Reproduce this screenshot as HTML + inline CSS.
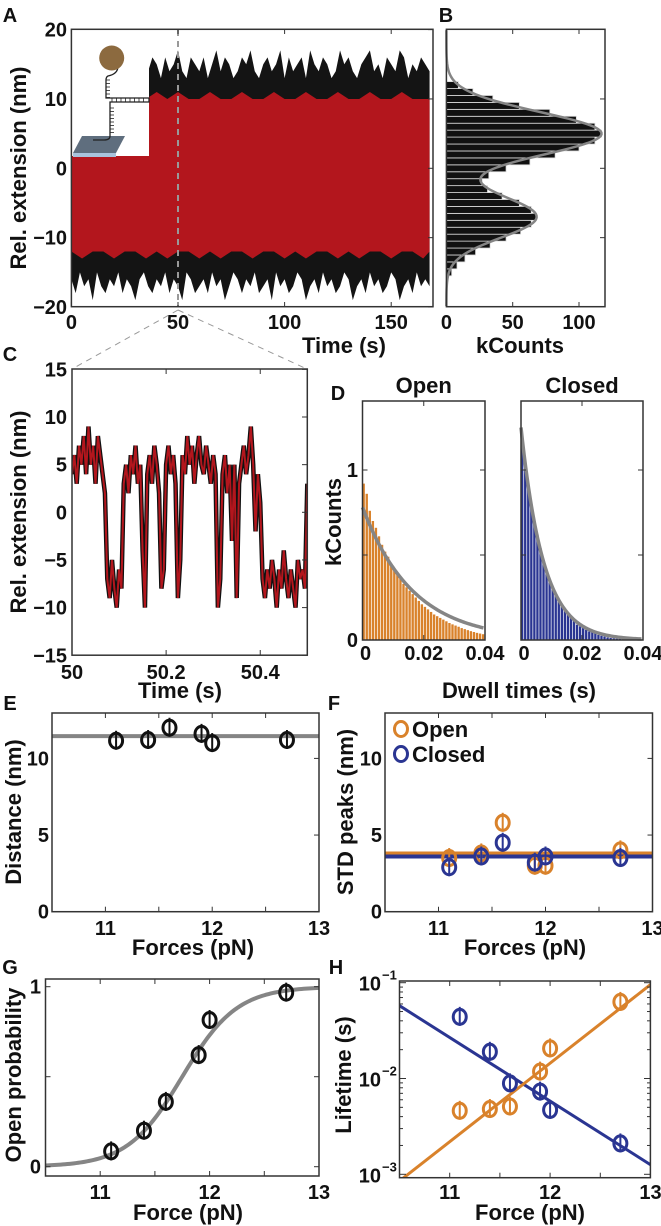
<!DOCTYPE html>
<html><head><meta charset="utf-8"><style>
html,body{margin:0;padding:0;background:#fff}
svg{display:block}
text{font-family:"Liberation Sans",Arial,sans-serif;font-weight:bold;fill:#111}
</style></head><body>
<svg id="fig" width="661" height="1226" viewBox="0 0 661 1226" xmlns="http://www.w3.org/2000/svg"></svg>
<script>
// ---------- DATA ----------
// Panel A raw envelope (every 2 s from 0 to 168 s)
const aEnvStep=2;
const aBlackTop=[14,16,13,15,17,14,13,16,15,14,17,13,15,16,14,15,13,17,14,16,15,13,16,14,15,17,14,13,16,15,14,16,13,15,17,14,16,15,13,14,16,15,17,14,13,15,16,14,15,17,13,16,14,15,16,13,17,15,14,16,15,13,14,17,15,16,14,13,15,16,17,14,15,13,16,15,14,17,16,13,15,14,16,15,14];
const aBlackBot=[-16,-18,-15,-17,-16,-19,-15,-17,-18,-16,-17,-15,-18,-16,-17,-19,-16,-15,-17,-18,-16,-17,-15,-18,-16,-17,-19,-15,-16,-18,-17,-16,-18,-15,-17,-16,-19,-17,-15,-16,-18,-16,-17,-15,-18,-17,-16,-19,-15,-17,-16,-18,-17,-15,-16,-19,-17,-16,-18,-15,-17,-16,-18,-17,-15,-16,-19,-17,-16,-18,-15,-17,-16,-18,-17,-15,-16,-19,-17,-16,-18,-15,-17,-16,-17];
// Panel A filtered envelope (every 5 s)
const aTimes=[0,5,10,15,20,25,30,35,40,45,50,55,60,65,70,75,80,85,90,95,100,105,110,115,120,125,130,135,140,145,150,155,160,165,168];
const aRedTop=[10,10,10,10,10,10,10,10,11,10,11,10,10,11,10,10,11,10,10,11,10,10,11,10,10,11,10,10,11,10,10,11,10,10,10];
const aRedBot=[-12,-13,-12,-12,-13,-12,-12,-13,-12,-13,-12,-12,-13,-12,-13,-12,-12,-13,-12,-12,-13,-12,-13,-12,-12,-13,-12,-13,-12,-12,-13,-12,-12,-13,-12];
const aXTicks=[0,50,100,150];
const aYTicks=[20,10,0,-10,-20];
// Panel B histogram (bin centre nm, kCounts)
const bBins=[-15,-14,-13,-12,-11,-10,-9,-8,-7,-6,-5,-4,-3,-2,-1,0,1,2,3,4,5,6,7,8,9,10,11,12];
const bCounts=[4,8,14,22,33,45,56,64,68,64,55,42,31,27,32,45,63,82,100,112,117,112,98,78,55,35,20,9];
const bFitAmp=[117,68];
const bFitMu=[5,-7];
const bFitSig=[3.1,3.0];
const bXTicks=[0,50,100];
// Panel C trace
const cStart=50, cStep=0.005;
const cTrace=[4,6,3,7,5,8,4,9,5,7,3,8,6,4,2,-7,-9,-5,-8,-10,-6,-8,3,5,2,6,4,7,3,5,-4,-10,4,6,3,7,5,2,-8,-6,5,7,4,6,3,-9,-5,6,4,8,5,7,3,6,8,5,4,7,5,3,6,4,-10,-7,4,6,2,5,-3,5,-9,3,5,7,4,6,9,5,-2,4,1,-7,-9,-6,-8,-5,-7,-10,-6,-8,-4,-7,-9,-6,-8,-10,-5,-7,-6,-8,3];
const cXTicks=[50,50.2,50.4];
const cYTicks=[15,10,5,0,-5,-10,-15];
// Panel D dwell histograms (bin width 0.001 s)
const dOpen=[0.92,0.86,0.76,0.70,0.66,0.61,0.56,0.52,0.49,0.45,0.42,0.39,0.36,0.33,0.31,0.29,0.27,0.25,0.23,0.21,0.195,0.18,0.165,0.15,0.14,0.13,0.12,0.11,0.10,0.092,0.085,0.078,0.07,0.064,0.058,0.052,0.047,0.042,0.038,0.034];
const dClosed=[1.18,1.02,0.90,0.80,0.70,0.62,0.54,0.47,0.41,0.36,0.31,0.27,0.23,0.20,0.17,0.15,0.13,0.11,0.09,0.08,0.07,0.06,0.05,0.045,0.04,0.03,0.025,0.02,0.015,0.012,0.01,0.008,0.006,0.005,0.004,0.003,0.002,0.002,0.001,0.001];
const dFitAmp=[0.78,1.25];
const dFitTau=[0.0165,0.0074];
// Panels E-H
const forces=[11.1,11.4,11.6,11.9,12.0,12.7];
const eDistance=[11.15,11.2,12.0,11.6,11.0,11.2];
const eMean=[11.45];
const fOpen=[3.5,3.8,5.8,3.0,3.0,4.0];
const fClosed=[2.9,3.6,4.5,3.2,3.6,3.5];
const fMeans=[3.8,3.6];
const gProb=[0.085,0.20,0.36,0.62,0.815,0.967];
const gFit=[11.75,0.25];
const hOpen=[0.0046,0.0048,0.0051,0.0118,0.0206,0.063];
const hClosed=[0.044,0.019,0.0089,0.0073,0.0047,0.0021];
const hFitOpen=[-1.84,0.82];
const hFitClosed=[-2.236,-0.664];
const forceTicks=[11,12,13];

// ---------- HELPERS ----------
const NS="http://www.w3.org/2000/svg";
const svg=document.getElementById('fig');
const TK=20, TT=22;
function el(tag,attrs,parent){const e=document.createElementNS(NS,tag);for(const k in attrs)e.setAttribute(k,attrs[k]);(parent||svg).appendChild(e);return e;}
function txt(x,y,s,size,anchor,rot){const t=el('text',{x:x,y:y,'font-size':size,'text-anchor':anchor||'middle'});if(rot)t.setAttribute('transform','rotate(-90 '+x+' '+y+')');t.textContent=s;return t;}
function box(x0,y0,x1,y1){return el('rect',{x:x0,y:y0,width:x1-x0,height:y1-y0,fill:'none',stroke:'#333','stroke-width':1.5});}
const ORANGE='#d9822b', BLUE='#2a3592', RED='#b3161d', GRAY='#858585';

// ---------- PANEL A ----------
const ax=t=>71.4+t*2.132, ay=v=>168.3-v*6.935;
let g=el('g',{});


let p='';aBlackTop.forEach((v,i)=>{p+=(i?'L':'M')+ax(i*aEnvStep)+','+ay(v);});for(let i=aBlackBot.length-1;i>=0;i--)p+='L'+ax(i*aEnvStep)+','+ay(aBlackBot[i]);
let e=el('path',{d:p+'Z',fill:'#141414'},g);

p='';aTimes.forEach((t,i)=>{p+=(i?'L':'M')+ax(t)+','+ay(aRedTop[i]);});for(let i=aTimes.length-1;i>=0;i--)p+='L'+ax(aTimes[i])+','+ay(aRedBot[i]);
e=el('path',{d:p+'Z',fill:RED},g);

// inset
e=el('rect',{x:72,y:30,width:77,height:126,fill:'#fff'},g);

el('path',{d:'M82,136 L125,136 L116,153 L73,153 Z',fill:'#5f6e7e'},g);
el('path',{d:'M73,153 L116,153 L116,157 L73,157 Z',fill:'#a9c3dc'},g);
el('path',{d:'M118,66 Q118,74 108,76 Q106,77 106,80 L106,98 L149,98 L149,102 L110,102 L110,136 Q110,140 104,140 L93,140',fill:'none',stroke:'#222','stroke-width':1.3},g);
for(let y=80;y<98;y+=3.5)el('line',{x1:106,y1:y,x2:110,y2:y,stroke:'#222','stroke-width':0.8},g);
for(let x=112;x<148;x+=4.5)el('line',{x1:x,y1:98,x2:x,y2:102,stroke:'#222','stroke-width':0.8},g);
for(let y=108;y<136;y+=3.5)el('line',{x1:110,y1:y,x2:114,y2:y,stroke:'#222','stroke-width':0.8},g);
e=el('circle',{cx:111.7,cy:58,r:12.5,fill:'#8c6a3f'},g);

e=el('line',{x1:ax(50),y1:30,x2:ax(50),y2:307,stroke:'#999','stroke-width':2,'stroke-dasharray':'6,5'},g);

box(71.4,29.3,433,306.7);
aXTicks.forEach(t=>{el('line',{x1:ax(t),y1:306.7,x2:ax(t),y2:302,stroke:'#333'},g);el('line',{x1:ax(t),y1:29.3,x2:ax(t),y2:34,stroke:'#333'},g);const l=txt(ax(t),329,String(t),TK);});
aYTicks.forEach(v=>{el('line',{x1:433,y1:ay(v),x2:428,y2:ay(v),stroke:'#333'},g);const l=txt(67,ay(v)+7,v<0?'\u2212'+(-v):String(v),TK,'end');});
e=txt(26,168,'Rel. extension (nm)',TT,'middle',true);
e=txt(344,353,'Time (s)',TT);
e=txt(10,22,'A',TK);
el('path',{d:'M'+ax(50)+',310 L72,369 M'+ax(50)+',310 L307,369',stroke:'#999','stroke-width':1,'stroke-dasharray':'6,5',fill:'none'});

// ---------- PANEL B ----------
const bx=c=>446.4+c*1.326;
g=el('g',{});

bBins.forEach((b,i)=>{const r=el('rect',{x:bx(0),y:ay(b+0.5),width:bx(bCounts[i])-bx(0),height:ay(b-0.5)-ay(b+0.5),fill:'#111',stroke:'#ddd','stroke-width':0.8},g);
});
p='';for(let v=19.9;v>=-19.9;v-=0.25){let c=0;for(let k=0;k<2;k++)c+=bFitAmp[k]*Math.exp(-Math.pow(v-bFitMu[k],2)/(2*bFitSig[k]*bFitSig[k]));p+=(p?'L':'M')+bx(c)+','+ay(v);}
e=el('path',{d:p,fill:'none',stroke:GRAY,'stroke-width':2.5},g);
box(446.4,29.3,605,306.7);
bXTicks.forEach(c=>{el('line',{x1:bx(c),y1:306.7,x2:bx(c),y2:302,stroke:'#333'},g);el('line',{x1:bx(c),y1:29.3,x2:bx(c),y2:34,stroke:'#333'},g);const l=txt(bx(c),329,String(c),TK);});
[10,0,-10].forEach(v=>el('line',{x1:605,y1:ay(v),x2:600,y2:ay(v),stroke:'#333'},g));
e=txt(520,353,'kCounts',TT);
e=txt(446,22,'B',TK);

// ---------- PANEL C ----------
const cx=t=>72+(t-50)*470.6, cy=v=>512.3-v*9.53;
g=el('g',{});

el('defs',{}).innerHTML='<clipPath id="cclip"><rect x="72" y="369" width="235" height="286"/></clipPath>';
const cg=el('g',{'clip-path':'url(#cclip)'},g);
p='';cTrace.forEach((v,i)=>{p+=(i?'L':'M')+cx(cStart+i*cStep)+','+cy(v);});
e=el('path',{d:p,fill:'none',stroke:'#111','stroke-width':4.5,'stroke-linejoin':'miter'},cg);
e=el('path',{d:p,fill:'none',stroke:RED,'stroke-width':2},cg);
box(72,369,307.3,655.2);
cXTicks.forEach(t=>{el('line',{x1:cx(t),y1:655,x2:cx(t),y2:650,stroke:'#333'},g);el('line',{x1:cx(t),y1:369,x2:cx(t),y2:374,stroke:'#333'},g);const l=txt(cx(t),679,String(t),TK);});
cYTicks.forEach(v=>{el('line',{x1:307,y1:cy(v),x2:302,y2:cy(v),stroke:'#333'},g);const l=txt(67,cy(v)+7,v<0?'\u2212'+(-v):String(v),TK,'end');});
e=txt(26,512,'Rel. extension (nm)',TT,'middle',true);
e=txt(180,698,'Time (s)',TT);
e=txt(10,361,'C',TK);

// ---------- PANEL D ----------
const dy=k=>640-k*170;
function dPanel(x0,x1,bars,col,amp,tau,title,name){
  const dx=t=>x0+t*(x1-x0)/0.04;
  const gg=el('g',{});
  
  bars.forEach((v,i)=>{const r=el('rect',{x:dx(i*0.001),y:dy(v),width:dx(0.001)-dx(0)-0.7,height:640-dy(v),fill:col},gg);
  });
  let pp='';for(let t=0;t<=0.04;t+=0.0005){pp+=(pp?'L':'M')+dx(t)+','+dy(amp*Math.exp(-t/tau));}
  const f=el('path',{d:pp,fill:'none',stroke:GRAY,'stroke-width':3.5},gg);
  box(x0,401,x1,640);
  [0,0.02,0.04].forEach(t=>{el('line',{x1:dx(t),y1:640,x2:dx(t),y2:635,stroke:'#333'},gg);el('line',{x1:dx(t),y1:401,x2:dx(t),y2:406,stroke:'#333'},gg);const l=txt(dx(t)+(t===0?3:0),660,String(t),TK);});
  [0.5,1].forEach(k=>{el('line',{x1:x1,y1:dy(k),x2:x1-5,y2:dy(k),stroke:'#333'},gg);el('line',{x1:x0,y1:dy(k),x2:x0+5,y2:dy(k),stroke:'#333'},gg);});
  const tl=txt((x0+x1)/2,393,title,TT);
  return dx;
}
dPanel(362.5,485,dOpen,ORANGE,dFitAmp[0],dFitTau[0],'Open','panel-d-open');
dPanel(521,643,dClosed,BLUE,dFitAmp[1],dFitTau[1],'Closed','panel-d-closed');
e=txt(358,477,'1',TK,'end');
e=txt(358,647,'0',TK,'end');
e=txt(341,522,'kCounts',TT,'middle',true);
e=txt(519,698,'Dwell times (s)',TT);
e=txt(338,400,'D',TK);

// ---------- markers ----------
function marker(parent,x,y,col,name){const gg=el('g',{},parent);
  el('line',{x1:x,y1:y-10,x2:x,y2:y+9,stroke:col,'stroke-width':2},gg);
  el('ellipse',{cx:x,cy:y,rx:6.5,ry:7.5,fill:'none',stroke:col,'stroke-width':3},gg);}
function forceAxes(gg,x0,x1,y0,y1,fx,labelY){
  box(x0,y0,x1,y1);
  [11,11.5,12,12.5,13].forEach(f=>{el('line',{x1:fx(f),y1:y1,x2:fx(f),y2:y1-5,stroke:'#333'},gg);el('line',{x1:fx(f),y1:y0,x2:fx(f),y2:y0+5,stroke:'#333'},gg);});
  forceTicks.forEach(f=>{const l=txt(fx(f),labelY,String(f),TK);});
}

// ---------- PANEL E ----------
const ex=f=>52+(f-10.5)*106.8, ey=v=>911.7-v*15.33;
g=el('g',{});
e=el('line',{x1:52,y1:ey(eMean[0]),x2:319,y2:ey(eMean[0]),stroke:GRAY,'stroke-width':4},g);
forces.forEach((f,i)=>marker(g,ex(f),ey(eDistance[i]),'#111','distance-point'));
forceAxes(g,52,319,713,911.7,ex,935);
[0,5,10].forEach(v=>{el('line',{x1:319,y1:ey(v),x2:314,y2:ey(v),stroke:'#333'},g);const l=txt(49,ey(v)+7,String(v),TK,'end');});
e=txt(21,812,'Distance (nm)',TT,'middle',true);
e=txt(193,955,'Forces (pN)',TT);
e=txt(10,710,'E',TK);

// ---------- PANEL F ----------
const fx=f=>385+(f-10.5)*107;
g=el('g',{});
e=el('line',{x1:385,y1:ey(fMeans[0]),x2:652.5,y2:ey(fMeans[0]),stroke:ORANGE,'stroke-width':4},g);
e=el('line',{x1:385,y1:ey(fMeans[1]),x2:652.5,y2:ey(fMeans[1]),stroke:BLUE,'stroke-width':4},g);
forces.forEach((f,i)=>marker(g,fx(f),ey(fOpen[i]),ORANGE,'open-std-point'));
forces.forEach((f,i)=>marker(g,fx(f),ey(fClosed[i]),BLUE,'closed-std-point'));
forceAxes(g,385,652.5,713,911.7,fx,935);
[0,5,10].forEach(v=>{el('line',{x1:652.5,y1:ey(v),x2:647.5,y2:ey(v),stroke:'#333'},g);const l=txt(382,ey(v)+7,String(v),TK,'end');});
let lg=el('g',{});
el('ellipse',{cx:401,cy:729,rx:6.5,ry:7.5,fill:'none',stroke:ORANGE,'stroke-width':3},lg);
e=txt(412,737,'Open',TT,'start');lg.appendChild(e);
el('ellipse',{cx:401,cy:754,rx:6.5,ry:7.5,fill:'none',stroke:BLUE,'stroke-width':3},lg);
e=txt(412,762,'Closed',TT,'start');lg.appendChild(e);
e=txt(353,812,'STD peaks (nm)',TT,'middle',true);
e=txt(525,955,'Forces (pN)',TT);
e=txt(334,710,'F',TK);

// ---------- PANEL G ----------
const gx=f=>45.5+(f-10.5)*109.4, gy=v=>1166.7-v*180;
g=el('g',{});
p='';for(let f=10.5;f<=13.001;f+=0.02){p+=(p?'L':'M')+gx(f)+','+gy(1/(1+Math.exp(-(f-gFit[0])/gFit[1])));}
e=el('path',{d:p,fill:'none',stroke:GRAY,'stroke-width':4},g);
forces.forEach((f,i)=>marker(g,gx(f),gy(gProb[i]),'#111','open-probability-point'));
forceAxes(g,45.5,319,979,1176,gx,1199);
[0,0.5,1].forEach(v=>{el('line',{x1:319,y1:gy(v),x2:314,y2:gy(v),stroke:'#333'},g);el('line',{x1:45.5,y1:gy(v),x2:50.5,y2:gy(v),stroke:'#333'},g);});
[0,1].forEach(v=>{const l=txt(41,gy(v)+7,String(v),TK,'end');});
e=txt(21,1075,'Open probability',TT,'middle',true);
e=txt(188,1220,'Force (pN)',TT);
e=txt(10,974,'G',TK);

// ---------- PANEL H ----------
const hx=f=>399.5+(f-10.5)*100.4, hy=v=>982.7+(-1-Math.log10(v))*95.8;
g=el('g',{});
el('defs',{}).innerHTML='<clipPath id="hclip"><rect x="399.5" y="981" width="251" height="197"/></clipPath>';
const hg=el('g',{'clip-path':'url(#hclip)'},g);
function fitLine(par,col,name){const l=el('line',{x1:hx(10.5),y1:hy(Math.pow(10,par[0]+par[1]*(10.5-12))),x2:hx(13),y2:hy(Math.pow(10,par[0]+par[1]*(13-12))),stroke:col,'stroke-width':3},hg);}
fitLine(hFitClosed,BLUE,'closed-lifetime-fit');
fitLine(hFitOpen,ORANGE,'open-lifetime-fit');
forces.forEach((f,i)=>marker(g,hx(f),hy(hClosed[i]),BLUE,'closed-lifetime-point'));
forces.forEach((f,i)=>marker(g,hx(f),hy(hOpen[i]),ORANGE,'open-lifetime-point'));
forceAxes(g,399.5,650.4,981,1177.7,hx,1199);
[0.001,0.01,0.1].forEach(v=>{el('line',{x1:650.4,y1:hy(v),x2:644,y2:hy(v),stroke:'#333'},g);el('line',{x1:399.5,y1:hy(v),x2:406,y2:hy(v),stroke:'#333'},g);
 for(let m=2;m<10;m++){const vv=v*m;if(vv<=0.1){el('line',{x1:650.4,y1:hy(vv),x2:647,y2:hy(vv),stroke:'#333'},g);el('line',{x1:399.5,y1:hy(vv),x2:403,y2:hy(vv),stroke:'#333'},g);}}
 const ex_=Math.round(Math.log10(v));const l=txt(381,hy(v)+8,'10',TK,'end');
 const s=txt(382,hy(v)-3,String(ex_).replace('-','\u2212'),13,'start');});
e=txt(351,1075,'Lifetime (s)',TT,'middle',true);
e=txt(530,1220,'Force (pN)',TT);
e=txt(336,974,'H',TK);
</script>
</body></html>
